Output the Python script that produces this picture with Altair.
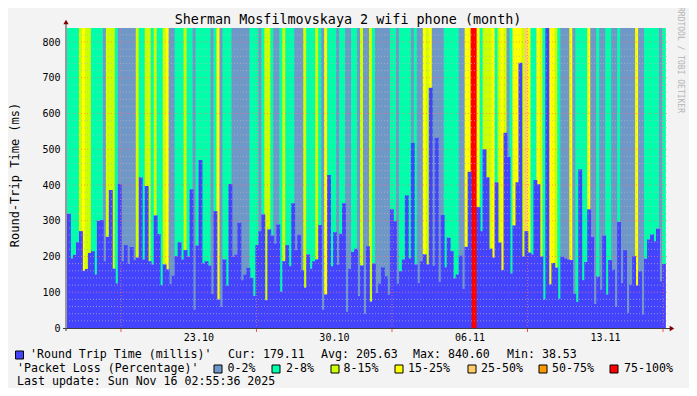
import altair as alt
import pandas as pd

# ---------------- data ----------------
rtt = [
    320, 195, 205, 240, 271, 160, 165, 210, 215, 150, 300, 302, 187, 255, 386, 166, 125, 403, 187, 232,
    180, 227, 190, 197, 422, 192, 397, 187, 178, 315, 263, 120, 178, 164, 124, 147, 201, 240, 192, 218,
    200, 388, 52, 231, 470, 181, 187, 175, 96, 327, 80, 60, 192, 119, 403, 200, 206, 295, 134, 150,
    169, 141, 90, 232, 271, 318, 78, 276, 259, 237, 290, 102, 187, 232, 173, 349, 218, 262, 162, 113,
    206, 166, 187, 192, 288, 52, 94, 428, 173, 268, 178, 264, 349, 45, 166, 213, 222, 90, 175, 41,
    229, 74, 181, 99, 125, 170, 145, 94, 332, 299, 125, 159, 192, 371, 195, 518, 178, 127, 187, 206,
    178, 672, 175, 532, 130, 316, 170, 253, 215, 139, 150, 203, 110, 227, 437, None, None, 338, 271, 500,
    422, 222, 197, 408, 239, 162, 546, 479, 153, 287, 408, 742, 200, 271, 211, 206, 414, 402, 200, 80,
    840.6, 122, 182, 169, 82, 200, 195, 192, 190, 96, 73, 444, 134, 185, 332, 255, 68, 144, 108, 259,
    94, 190, 164, 60, 297, 127, 218, 43, 122, 201, 119, 159, 38.53, 194, 248, 262, 243, 278, 131, 179.11,
]
# packet-loss class index per column (0: 0-2%, 1: 2-8%, 2: 8-15%, 3: 15-25%, 4: 25-50%, 5: 50-75%, 6: 75-100%)
loss = [
    1, 1, 1, 1, 2, 3, 2, 2, 1, 1, 1, 1, 0, 2, 2, 2, 1, 0, 0, 0,
    0, 0, 0, 2, 1, 1, 2, 2, 1, 2, 1, 1, 2, 3, 0, 0, 1, 1, 1, 2,
    1, 1, 0, 1, 1, 1, 1, 1, 0, 1, 3, 0, 1, 1, 1, 0, 0, 0, 0, 0,
    0, 1, 1, 1, 0, 1, 2, 2, 1, 0, 0, 1, 2, 1, 1, 1, 0, 0, 0, 2,
    1, 1, 1, 2, 1, 0, 3, 1, 1, 1, 0, 1, 1, 0, 0, 1, 1, 0, 2, 0,
    0, 2, 1, 0, 0, 0, 0, 0, 1, 1, 0, 1, 1, 1, 1, 0, 1, 0, 0, 3,
    2, 3, 0, 0, 0, 0, 1, 1, 1, 1, 1, 0, 0, 3, 3, 6, 6, 3, 1, 2,
    2, 2, 3, 1, 2, 3, 2, 0, 1, 3, 3, 3, 2, 4, 3, 1, 1, 3, 2, 1,
    1, 3, 3, 2, 1, 0, 0, 0, 3, 0, 1, 1, 1, 1, 3, 0, 0, 1, 0, 0,
    1, 1, 0, 0, 1, 0, 0, 0, 0, 0, 3, 0, 0, 1, 1, 1, 1, 1, 0, 1,
]
loss_labels = ["0-2%", "2-8%", "8-15%", "15-25%", "25-50%", "50-75%", "75-100%"]
loss_colors = ["#6f98c8", "#00ffaa", "#ccff00", "#ffff00", "#ffcc66", "#ff9900", "#ff0000"]
rtt_color = "#4444ff"

# time axis in days relative to 23.10 00:00
start_day = -6.787
step_day = 0.15444
x_domain = [-6.787, 24.205]
tick_days = [0, 7, 14, 21]
tick_labels = ["23.10", "30.10", "06.11", "13.11"]
week_days = [-4, 3, 10, 17, 24]

y_max = 839.2
y_ticks = [0, 100, 200, 300, 400, 500, 600, 700, 800]
minor_y = [v for v in range(20, 840, 20) if v % 100]
major_y = [100, 200, 300, 400, 500, 600, 700, 800]

title_text = "Sherman Mosfilmovskaya 2 wifi phone (month)"
y_title = "Round-Trip Time (ms)"
rtt_name = "'Round Trip Time (millis)'"
stats = [("Cur:", "179.11"), ("Avg:", "205.63"), ("Max:", "840.60"), ("Min:", "38.53")]
loss_name = "'Packet Loss (Percentage)'"
last_update = "Last update: Sun Nov 16 02:55:36 2025"
side_text = "RRDTOOL / TOBI OETIKER"

FONT = "DejaVu Sans Mono"
LEG = 11.6

# ---------------- table ----------------
rows = []
for k, (r, l) in enumerate(zip(rtt, loss)):
    x0 = start_day + k * step_day
    rows.append({
        "x0": x0,
        "x1": x0 + step_day * 1.3,
        "rtt": r,
        "base": 0 if r is None else r,
        "top": 840.6,
        "zero": 0,
        "loss": loss_labels[l],
    })
df = pd.DataFrame(rows)
df_rtt = df[df["rtt"].notna()]

xs = alt.Scale(domain=x_domain, nice=False, zero=False)
ys = alt.Scale(domain=[0, y_max], nice=False, zero=True)

label_expr = " : ".join(
    f"datum.value == {d} ? '{t}'" for d, t in zip(tick_days, tick_labels)
) + " : ''"

x_axis = alt.Axis(values=tick_days, labelExpr=label_expr, title=None, grid=False, ticks=False,
                  domain=False, labelPadding=4, labelFont=FONT, labelFontSize=10,
                  labelColor="#000000")
y_axis = alt.Axis(values=y_ticks, title=None, grid=False, ticks=False, domain=False,
                  labelPadding=7, labelFont=FONT, labelFontSize=10, labelColor="#000000")

loss_layer = alt.Chart(df).mark_rect(clip=True).encode(
    x=alt.X("x0:Q", scale=xs, axis=x_axis),
    x2="x1:Q",
    y=alt.Y("base:Q", scale=ys, axis=y_axis),
    y2="top:Q",
    color=alt.Color("loss:N", scale=alt.Scale(domain=loss_labels, range=loss_colors), legend=None),
)

rtt_layer = alt.Chart(df_rtt).mark_rect(clip=True, color=rtt_color).encode(
    x=alt.X("x0:Q", scale=xs, axis=x_axis),
    x2="x1:Q",
    y=alt.Y("zero:Q", scale=ys, axis=y_axis),
    y2="rtt:Q",
)

minor_grid = alt.Chart(pd.DataFrame({"v": minor_y})).mark_rule(
    color="#b8b8b8", strokeDash=[1, 2], strokeWidth=1, opacity=0.7
).encode(y=alt.Y("v:Q", scale=ys, axis=y_axis))

major_grid = alt.Chart(pd.DataFrame({"v": major_y})).mark_rule(
    color="#ff7070", strokeDash=[1, 2], strokeWidth=1, opacity=0.7
).encode(y=alt.Y("v:Q", scale=ys, axis=y_axis))

vert_grid = alt.Chart(pd.DataFrame({"d": week_days})).mark_rule(
    color="#ff7070", strokeDash=[1, 2], strokeWidth=1, opacity=0.7
).encode(x=alt.X("d:Q", scale=xs, axis=x_axis))

x_ticks = alt.Chart(pd.DataFrame({"d": week_days})).mark_rule(
    color="#ff5050", strokeWidth=1
).encode(x=alt.X("d:Q", scale=xs, axis=x_axis), y=alt.value(300), y2=alt.value(304))

one = pd.DataFrame({"a": [0]})
axis_y_line = alt.Chart(one).mark_rule(color="#404040", strokeWidth=1).encode(
    x=alt.value(-1), y=alt.value(-4), y2=alt.value(303))
axis_x_line = alt.Chart(one).mark_rule(color="#404040", strokeWidth=1).encode(
    y=alt.value(300.5), x=alt.value(-4), x2=alt.value(603))
arrow_up = alt.Chart(one).mark_point(shape="triangle-up", filled=True, color="#800000",
                                     size=28, opacity=1).encode(x=alt.value(-1), y=alt.value(-6))
arrow_right = alt.Chart(one).mark_point(shape="triangle-right", filled=True, color="#800000",
                                        size=28, opacity=1).encode(x=alt.value(605), y=alt.value(300.5))


def txt(s, x, y, size=LEG, align="left", angle=0, color="#000000"):
    return alt.Chart(pd.DataFrame({"t": [s]})).mark_text(
        font=FONT, fontSize=size, align=align, baseline="middle", angle=angle, color=color
    ).encode(text="t:N", x=alt.value(x), y=alt.value(y))


def swatch(color, x, y, w=8, h=8):
    return alt.Chart(one).mark_rect(fill=color, stroke="#000000", strokeWidth=1).encode(
        x=alt.value(x), x2=alt.value(x + w), y=alt.value(y), y2=alt.value(y + h))


texts = [
    txt(title_text, 281, -8.5, size=13.4, align="center"),
    txt(y_title, -52, 147, size=12, align="center", angle=270),
    txt(side_text, 613, 32, size=8, align="center", angle=90, color="#b4b4b4"),
    swatch(rtt_color, -51.5, 323),
    txt(rtt_name, -37, 327),
    txt(last_update, -50, 354),
    txt(loss_name, -50, 341),
]
stat_x = [161, 254, 346, 440]
for (lab, val), sx in zip(stats, stat_x):
    texts.append(txt(f"{lab} {val}", sx, 327))

sw_x = [147, 205, 264, 328, 401, 472, 543]
tx_x = [160.5, 219, 276.5, 341, 414, 485, 557]
for lab, col, sx, tx in zip(loss_labels, loss_colors, sw_x, tx_x):
    texts.append(swatch(col, sx, 337))
    texts.append(txt(lab, tx, 341))

chart = alt.layer(
    loss_layer, rtt_layer, minor_grid, major_grid, vert_grid, x_ticks,
    axis_y_line, axis_x_line, arrow_up, arrow_right, *texts
).properties(
    width=600, height=300,
    padding={"left": 59, "top": 20, "right": 22, "bottom": 60},
    autosize=alt.AutoSizeParams(type="none"),
    background="#f3f3f3",
).configure_view(strokeWidth=0, fill="#ffffff")

chart.save("out.html", embed_options={"renderer": "svg", "actions": False})
